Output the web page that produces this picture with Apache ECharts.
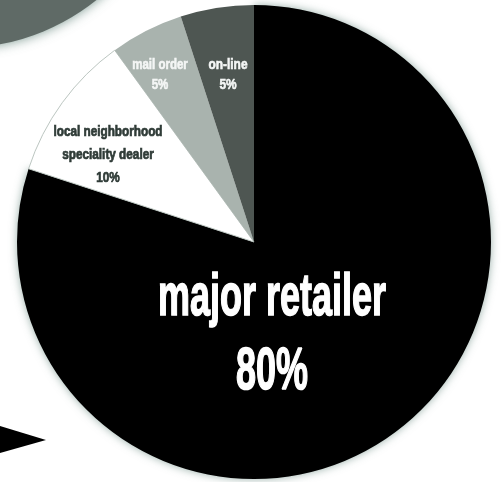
<!DOCTYPE html>
<html>
<head>
<meta charset="utf-8">
<script src="https://cdn.jsdelivr.net/npm/echarts@6/dist/echarts.min.js"></script>
<style>
  html, body { margin: 0; padding: 0; background: #ffffff; }
  #chart { width: 504px; height: 482px; }
</style>
</head>
<body>
<div id="chart"></div>
<script>
// Share of purchases by channel (percent)
const channels = ['major retailer', 'local neighborhood\nspeciality dealer', 'mail order', 'on-line'];
const shares = [80, 10, 5, 5];

// Slice fills and label styling, in the same order as the channels
const fills = ['#000000', '#ffffff', '#a9b3ae', '#4e5652'];
const labelColors = ['#ffffff', '#2f3b37', '#f4f6f5', '#f4f6f5'];
const labelSizes = [60, 14, 14, 14];
const labelLineHeights = [74, 23, 20, 20];
const labelScaleX = [0.6, 0.84, 0.82, 0.85];
const labelWeight = [1.6, 0.7, 0.6, 0.6];
const labelAnchors = [[272, 335], [108, 155], [160, 75], [228, 75]];

const CENTER = [254, 242];
const RADIUS = 237;

const chart = echarts.init(document.getElementById('chart'), null, { renderer: 'canvas' });

const labels = channels.map((name, i) => ({
  type: 'text',
  x: labelAnchors[i][0],
  y: labelAnchors[i][1],
  scaleX: labelScaleX[i],
  z: 10,
  silent: true,
  style: {
    text: name + '\n' + shares[i] + '%',
    fontFamily: '"Liberation Sans", Arial, sans-serif',
    fontWeight: 'bold',
    fontSize: labelSizes[i],
    lineHeight: labelLineHeights[i],
    fill: labelColors[i],
    stroke: labelColors[i],
    lineWidth: labelWeight[i],
    align: 'center',
    verticalAlign: 'middle'
  }
}));

chart.setOption({
  animation: false,
  backgroundColor: '#ffffff',
  graphic: [
    // neighbouring artwork cut off at the page edges
    {
      type: 'circle',
      z: 0,
      silent: true,
      shape: { cx: -40, cy: -170, r: 218 },
      style: { fill: '#5f6a66', shadowBlur: 12, shadowColor: 'rgba(70,110,98,0.7)' }
    },
    {
      type: 'polygon',
      z: 0,
      silent: true,
      shape: { points: [[0, 426], [46, 440], [0, 453]] },
      style: { fill: '#000000' }
    },
    ...labels
  ],
  series: [{
    type: 'pie',
    center: CENTER,
    radius: RADIUS,
    startAngle: 90,
    clockwise: true,
    silent: true,
    label: { show: false },
    labelLine: { show: false },
    emphasis: { disabled: true },
    data: channels.map((name, i) => ({
      name: name,
      value: shares[i],
      itemStyle: {
        color: fills[i],
        borderColor: i === 1 ? '#bcc6c1' : fills[i],
        borderWidth: i === 1 ? 1 : 0,
        shadowBlur: i === 0 ? 8 : 0,
        shadowColor: 'rgba(70,110,98,0.55)'
      }
    }))
  }]
});
</script>
</body>
</html>
